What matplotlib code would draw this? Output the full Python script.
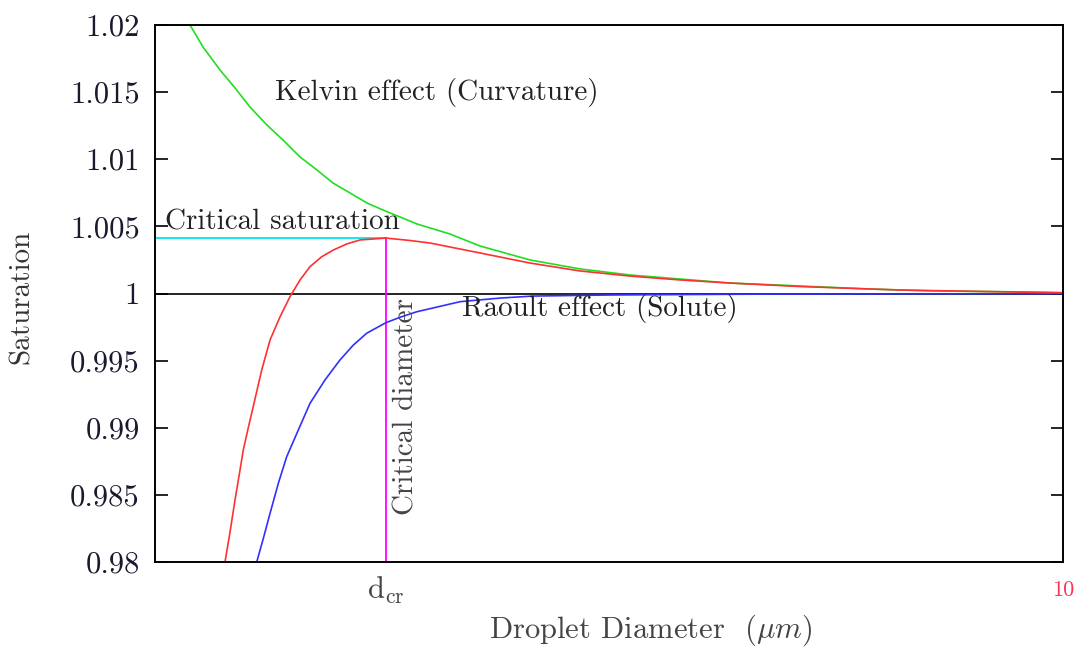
# %% import modules
import numpy as np
import matplotlib.pyplot as plt

plt.rcParams['font.family'] = ['cmr10', 'DejaVu Serif']
plt.rcParams['mathtext.fontset'] = 'cm'
plt.rcParams['axes.formatter.use_mathtext'] = True

# %% Data
# Kelvin effect (curvature term)
kelvin_d = [0.385, 0.529, 0.716, 0.881, 1.046, 1.233, 1.410, 1.597, 1.784, 1.960,
            2.148, 2.335, 2.511, 2.885, 3.249, 3.579, 4.130, 4.681, 5.231, 5.782,
            6.333, 7.104, 7.841, 8.568, 9.670, 10.0]
kelvin_s = [1.0200, 1.01836, 1.01665, 1.01531, 1.01389, 1.01255, 1.01143, 1.01017,
            1.00920, 1.00823, 1.00749, 1.00674, 1.00622, 1.00518, 1.00443, 1.00354,
            1.00250, 1.00183, 1.00138, 1.00108, 1.00078, 1.00056, 1.00034, 1.00019,
            1.00011, 1.00007]

# Koehler curve (combined)
kohler_d = [0.771, 0.826, 0.881, 0.936, 0.972, 1.024, 1.083, 1.175, 1.267, 1.377,
            1.487, 1.597, 1.707, 1.836, 1.964, 2.111, 2.258, 2.404, 2.541, 2.808,
            3.029, 3.579, 4.130, 4.681, 5.231, 5.782, 6.333, 7.104, 8.205, 10.0]
kohler_s = [0.9800, 0.98223, 0.98462, 0.98685, 0.98834, 0.98991, 0.99162, 0.99430,
            0.99654, 0.99827, 0.99977, 1.00101, 1.00200, 1.00274, 1.00324, 1.00369,
            1.00399, 1.00406, 1.00413, 1.00395, 1.00376, 1.00302, 1.00227, 1.00168,
            1.00130, 1.00101, 1.00078, 1.00052, 1.00026, 1.00005]

# Raoult effect (solute term)
raoult_d = [1.120, 1.193, 1.267, 1.358, 1.450, 1.578, 1.707, 1.872, 2.037, 2.184,
            2.331, 2.541, 2.698, 2.882, 3.359, 3.800, 4.163, 5.011, 6.55, 10.0]
raoult_s = [0.9800, 0.98176, 0.98363, 0.98586, 0.98784, 0.98983, 0.99182, 0.99356,
            0.99505, 0.99616, 0.99704, 0.99782, 0.99823, 0.99864, 0.99939, 0.99966,
            0.99981, 0.99989, 0.99995, 0.99999]

d_crit = 2.541
s_crit = 1.00413

yticks = [0.98, 0.985, 0.99, 0.995, 1.0, 1.005, 1.01, 1.015, 1.02]
ytick_labels = ['0.98', '0.985', '0.99', '0.995', '1', '1.005', '1.01', '1.015', '1.02']

# %% Generate plot
fig = plt.figure(figsize=(10.78, 6.48), dpi=100)
ax = fig.add_axes([0.1438, 0.1327, 0.8423, 0.8287])

ax.axhline(1.0, color='black', lw=1.2)
ax.plot([0, d_crit], [s_crit, s_crit], color='#00e5ee', lw=1.3)
ax.plot([d_crit, d_crit], [0.98, s_crit], color='#ff00ff', lw=1.3)
ax.plot(kelvin_d, kelvin_s, color='#22dd22', lw=1.2)
ax.plot(raoult_d, raoult_s, color='#3030ff', lw=1.2)
ax.plot(kohler_d, kohler_s, color='#ff3030', lw=1.2)

ax.set_xlim(0, 10)
ax.set_ylim(0.98, 1.02)
ax.set_yticks(yticks, ytick_labels)
ax.set_xticks([])
ax.tick_params(axis='y', direction='in', length=9, width=1.2, right=True,
               labelsize=22, labelcolor='#1a1a2e', pad=11)
for sp in ax.spines.values():
    sp.set_linewidth(1.4)

txt = dict(fontsize=21, color='#222222')
ax.text(1.32, 1.01494, 'Kelvin effect (Curvature)', va='center', ha='left', **txt)
ax.text(0.11, 1.00533, 'Critical saturation', va='center', ha='left', **txt)
ax.text(3.38, 0.99892, 'Raoult effect (Solute)', va='center', ha='left', **txt)
ax.text(2.764, 0.99155, 'Critical diameter', va='center', ha='center',
        rotation=90, fontsize=21, color='#444444')

fig.text(0.358, 0.0895, r'd$_{\mathrm{cr}}$', ha='center', va='center',
         fontsize=22, color='#444444')
fig.text(0.986, 0.0895, '10', ha='center', va='center', fontsize=16, color='#ff3355')
fig.text(0.604, 0.028, r'Droplet Diameter  ($\mu m$)', ha='center', va='center',
         fontsize=22, color='#444444')
fig.text(0.0204, 0.5417, 'Saturation', ha='center', va='center', rotation=90,
         fontsize=21, color='#333333')

fig.savefig('out.png', dpi=100)
